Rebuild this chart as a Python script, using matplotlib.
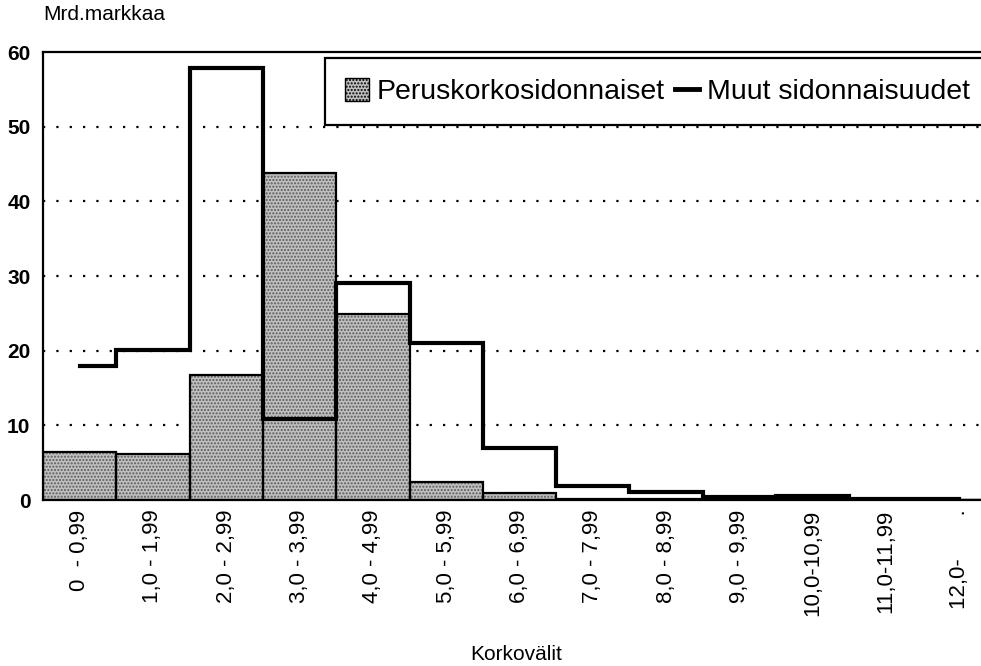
import numpy as np
import matplotlib
matplotlib.use("Agg")
import matplotlib.pyplot as plt
from matplotlib.patches import Patch
from matplotlib.lines import Line2D

plt.rcParams['font.family'] = ['Liberation Sans', 'DejaVu Sans']

# Korkovälit (interest rate ranges)
labels = ["0  - 0,99", "1,0 - 1,99", "2,0 - 2,99", "3,0 - 3,99", "4,0 - 4,99",
          "5,0 - 5,99", "6,0 - 6,99", "7,0 - 7,99", "8,0 - 8,99", "9,0 - 9,99",
          "10,0-10,99", "11,0-11,99", "12,0-       ."]
perus = [6.4, 6.1, 16.7, 43.8, 24.9, 2.4, 0.9, 0.2, 0.1, 0.1, 0.1, 0.05, 0.0]
muut = [17.9, 20.1, 57.8, 10.9, 29.1, 21.0, 7.0, 1.9, 1.1, 0.4, 0.55, 0.2, 0.1]

x = np.arange(len(labels))

fig = plt.figure(figsize=(9.81, 6.66), dpi=100)
ax = fig.add_axes([43 / 981, 166 / 666, 953 / 981, 448 / 666])

# stippled grey bars: texture layer, then black outline
ax.bar(x, perus, width=1.0, color='#c0c0c0', edgecolor='#5a5a5a', hatch='.....',
       linewidth=0, zorder=2)
ax.bar(x, perus, width=1.0, fill=False, edgecolor='black', linewidth=1.6, zorder=3)

ax.step(x, muut, where='mid', color='black', linewidth=3.0, zorder=4,
        solid_joinstyle='miter')

ax.set_xlim(-0.5, 12.5)
ax.set_ylim(0, 60)
ax.set_yticks([0, 10, 20, 30, 40, 50, 60])
for yv in [10, 20, 30, 40, 50]:
    ax.axhline(yv, color='black', linestyle=(0, (1, 5)), linewidth=1.6, zorder=1)

ax.set_xticks(x)
ax.set_xticklabels(labels, rotation=90, fontsize=16, va='top')
ax.tick_params(axis='x', length=0, pad=7)
ax.tick_params(axis='y', length=0, pad=9, labelsize=15)
for t in ax.get_yticklabels():
    t.set_fontweight('bold')

for s in ax.spines.values():
    s.set_linewidth(1.6)

fig.text(43 / 981, 1 - 14 / 666, "Mrd.markkaa", fontsize=15, va='center', ha='left')
fig.text(516 / 981, 1 - 655 / 666, "Korkovälit", fontsize=15, va='center', ha='center')

handles = [Patch(facecolor='#c0c0c0', edgecolor='black', hatch='.....', linewidth=1.0),
           Line2D([0], [0], color='black', linewidth=3.5)]
leg = ax.legend(handles, ["Peruskorkosidonnaiset", "Muut sidonnaisuudet"],
                ncol=2, loc='upper left', bbox_to_anchor=(282 / 953, 442 / 448),
                fontsize=20.5, frameon=True, fancybox=False, framealpha=1,
                handlelength=0.85, handleheight=0.85, handletextpad=0.28,
                columnspacing=0.35, borderpad=0.7, borderaxespad=0)
leg.get_frame().set_edgecolor('black')
leg.get_frame().set_linewidth(1.6)
leg.set_zorder(5)

fig.savefig("out.png", dpi=100)
